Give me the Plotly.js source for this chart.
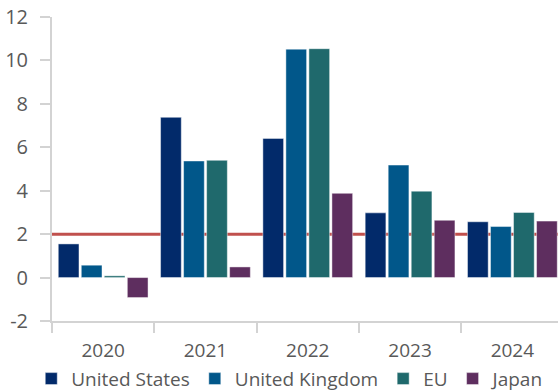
<!DOCTYPE html>
<html>
<head>
<meta charset="utf-8">
<script src="https://cdn.plot.ly/plotly-3.0.1.min.js"></script>
<style>
  html, body { margin: 0; padding: 0; background: #fff; }
  #chart { width: 558px; height: 392px; }
</style>
</head>
<body>
<div id="chart"></div>
<script>
// Annual inflation (%) by economy, with the 2% target line
const years = ['2020', '2021', '2022', '2023', '2024'];
const unitedStates = [1.55, 7.38, 6.41, 2.98, 2.57];
const unitedKingdom = [0.57, 5.37, 10.52, 5.18, 2.35];
const euroArea = [0.08, 5.40, 10.54, 3.98, 3.00];
const japan = [-0.92, 0.49, 3.88, 2.64, 2.60];
const target = 2;

const seriesNames = ['United States', 'United Kingdom', 'EU', 'Japan'];
const seriesValues = [unitedStates, unitedKingdom, euroArea, japan];
const seriesColors = ['#022a6a', '#01578a', '#1f696c', '#5e2e5f'];

const textColor = '#595959';
const axisColor = '#d3d3d3';
const font = 'Open Sans, DejaVu Sans, sans-serif';

const traces = seriesNames.map((name, i) => ({
  type: 'bar',
  name: name,
  x: years,
  y: seriesValues[i],
  marker: {
    color: seriesColors[i],
    line: { color: 'rgba(255,255,255,0.45)', width: 1 }
  },
  hoverinfo: 'name+y'
}));

const layout = {
  width: 558,
  height: 392,
  margin: { l: 52, r: 0, t: 17, b: 71, autoexpand: false },
  paper_bgcolor: '#ffffff',
  plot_bgcolor: '#ffffff',
  barmode: 'group',
  bargap: 0.1,
  bargroupgap: 0.1,
  font: { family: font, color: textColor, size: 19 },
  showlegend: true,
  legend: {
    orientation: 'h',
    x: -0.041,
    xanchor: 'left',
    y: -0.19,
    yanchor: 'middle',
    font: { family: font, size: 19, color: textColor },
    itemwidth: 30,
    tracegroupgap: 0,
    traceorder: 'normal'
  },
  xaxis: {
    type: 'category',
    range: [-0.5, 4.446],
    showline: true,
    linecolor: axisColor,
    linewidth: 2,
    ticks: 'outside',
    tickson: 'boundaries',
    ticklen: 10,
    tickwidth: 2,
    tickcolor: axisColor,
    showgrid: false,
    zeroline: false,
    tickfont: { family: font, size: 19, color: textColor },
    ticklabelstandoff: 11
  },
  yaxis: {
    range: [-2, 12],
    tickvals: [-2, 0, 2, 4, 6, 8, 10, 12],
    ticktext: ['-2', '0', '2', '4', '6', '8', '10', '12'],
    showline: true,
    linecolor: axisColor,
    linewidth: 2,
    ticks: 'outside',
    ticklen: 10,
    tickwidth: 2,
    tickcolor: axisColor,
    showgrid: false,
    zeroline: false,
    tickfont: { family: font, size: 20, color: textColor },
    ticklabelstandoff: 8
  },
  shapes: [{
    type: 'line',
    xref: 'paper',
    yref: 'y',
    x0: 0,
    x1: 1,
    y0: target,
    y1: target,
    layer: 'below',
    line: { color: '#c0504d', width: 3 }
  }]
};

Plotly.newPlot('chart', traces, layout, { displayModeBar: false, staticPlot: true });
</script>
</body>
</html>
